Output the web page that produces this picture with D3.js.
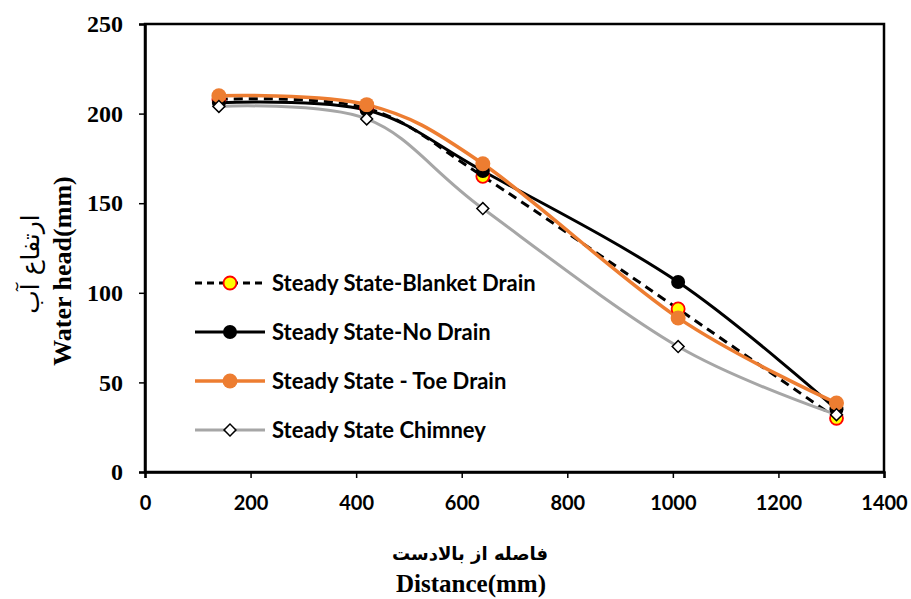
<!DOCTYPE html>
<html>
<head>
<meta charset="utf-8">
<script src="https://cdn.jsdelivr.net/npm/d3@7"></script>
<style>
  body { margin: 0; background: #fff; }
  svg { display: block; }
</style>
</head>
<body>
<div id="chart"></div>
<script>
// distances along the dam (mm)
const distances = [140, 420, 640, 1010, 1310];

const blanketDrain = [208, 203, 165, 91, 30];
const noDrain = [206, 202, 168, 106, 35];
const toeDrain = [210, 205, 172, 86, 38.5];
const chimney = [204, 197, 147, 70, 32];

const xTicks = [0, 200, 400, 600, 800, 1000, 1200, 1400];
const yTicks = [0, 50, 100, 150, 200, 250];

const seriesNames = [
    'Steady State-Blanket Drain',
    'Steady State-No Drain',
    'Steady State - Toe Drain',
    'Steady State Chimney'
];

const width = 911, height = 599;
const margin = { top: 24, right: 27, bottom: 127, left: 145 };
const innerW = width - margin.left - margin.right;
const innerH = height - margin.top - margin.bottom;

const svg = d3.select('#chart')
    .append('svg')
    .attr('width', width)
    .attr('height', height);

const g = svg.append('g')
    .attr('transform', `translate(${margin.left}, ${margin.top})`);

const x = d3.scaleLinear().domain([0, 1400]).range([0, innerW]);
const y = d3.scaleLinear().domain([0, 250]).range([innerH, 0]);

// frame
g.append('rect')
    .attr('width', innerW)
    .attr('height', innerH)
    .attr('fill', 'none')
    .attr('stroke', '#000')
    .attr('stroke-width', 2.5);

const xAxis = g.append('g')
    .attr('transform', `translate(0, ${innerH})`)
    .call(d3.axisBottom(x).tickValues(xTicks).tickSize(6).tickPadding(18).tickFormat(d3.format('d')));

const yAxis = g.append('g')
    .call(d3.axisLeft(y).tickValues(yTicks).tickSize(6).tickPadding(16).tickFormat(d3.format('d')));

[xAxis, yAxis].forEach(ax => {
    ax.select('.domain').attr('stroke', '#000').attr('stroke-width', 2.5);
    ax.selectAll('.tick line').attr('stroke', '#000').attr('stroke-width', 1.5);
});

xAxis.selectAll('.tick text')
    .style('font-family', 'Lato, "Open Sans", sans-serif')
    .style('font-weight', '700')
    .style('font-size', '20px')
    .attr('fill', '#000');

yAxis.selectAll('.tick text')
    .style('font-family', '"Liberation Serif", "Times New Roman", serif')
    .style('font-weight', '700')
    .style('font-size', '24px')
    .attr('fill', '#000');

const smooth = d3.curveCardinal.tension(0);

const series = [
    { name: seriesNames[1], values: noDrain, color: '#000', width: 3, dash: null },
    { name: seriesNames[0], values: blanketDrain, color: '#000', width: 3, dash: '9,6' },
    { name: seriesNames[3], values: chimney, color: '#a6a6a6', width: 3, dash: null },
    { name: seriesNames[2], values: toeDrain, color: '#ed7d31', width: 3.5, dash: null }
];

const line = d3.line()
    .x((d, i) => x(distances[i]))
    .y(d => y(d))
    .curve(smooth);

series.forEach(s => {
    g.append('path')
        .datum(s.values)
        .attr('fill', 'none')
        .attr('stroke', s.color)
        .attr('stroke-width', s.width)
        .attr('stroke-dasharray', s.dash)
        .attr('d', line);
});

function drawMarker(sel, name, cx, cy) {
    if (name === seriesNames[0]) {
        sel.append('circle').attr('cx', cx).attr('cy', cy).attr('r', 6.5)
            .attr('fill', '#ffff00').attr('stroke', '#ff0000').attr('stroke-width', 1.8);
    } else if (name === seriesNames[1]) {
        sel.append('circle').attr('cx', cx).attr('cy', cy).attr('r', 7)
            .attr('fill', '#000');
    } else if (name === seriesNames[2]) {
        sel.append('circle').attr('cx', cx).attr('cy', cy).attr('r', 7.5)
            .attr('fill', '#ed7d31');
    } else {
        sel.append('path')
            .attr('transform', `translate(${cx}, ${cy}) rotate(45)`)
            .attr('d', 'M-4.2,-4.2H4.2V4.2H-4.2Z')
            .attr('fill', '#fff').attr('stroke', '#000').attr('stroke-width', 1.5);
    }
}

// markers drawn in Excel order: blanket, no drain, toe, chimney
const markerOrder = [
    { name: seriesNames[0], values: blanketDrain },
    { name: seriesNames[1], values: noDrain },
    { name: seriesNames[2], values: toeDrain },
    { name: seriesNames[3], values: chimney }
];
markerOrder.forEach(s => {
    const mg = g.append('g');
    s.values.forEach((v, i) => drawMarker(mg, s.name, x(distances[i]), y(v)));
});

// legend
const legendItems = [
    { name: seriesNames[0], color: '#000', width: 3, dash: '7,5' },
    { name: seriesNames[1], color: '#000', width: 3, dash: null },
    { name: seriesNames[2], color: '#ed7d31', width: 3.5, dash: null },
    { name: seriesNames[3], color: '#a6a6a6', width: 3, dash: null }
];

const legend = svg.append('g').attr('transform', 'translate(195, 283)');
legendItems.forEach((d, i) => {
    const row = legend.append('g').attr('transform', `translate(0, ${i * 49})`);
    row.append('line')
        .attr('x1', 0).attr('x2', 70)
        .attr('stroke', d.color)
        .attr('stroke-width', d.width)
        .attr('stroke-dasharray', d.dash);
    drawMarker(row, d.name, 35, 0);
    row.append('text')
        .attr('x', 77)
        .attr('dy', '0.35em')
        .style('font-family', 'Lato, "Open Sans", sans-serif')
        .style('font-weight', '700')
        .style('font-size', '22px')
        .attr('fill', '#000')
        .text(d.name);
});

// axis titles
svg.append('text')
    .attr('x', 470).attr('y', 560)
    .attr('text-anchor', 'middle')
    .attr('direction', 'rtl')
    .style('font-family', '"DejaVu Sans", sans-serif')
    .style('font-weight', '700')
    .style('font-size', '18px')
    .text('فاصله از بالادست');

svg.append('text')
    .attr('x', 471).attr('y', 592)
    .attr('text-anchor', 'middle')
    .style('font-family', '"Liberation Serif", serif')
    .style('font-weight', '700')
    .style('font-size', '25px')
    .text('Distance(mm)');

svg.append('text')
    .attr('transform', 'translate(39, 264) rotate(-90)')
    .attr('text-anchor', 'middle')
    .attr('direction', 'rtl')
    .style('font-family', '"DejaVu Sans", sans-serif')
    .style('font-size', '25px')
    .text('ارتفاع آب');

svg.append('text')
    .attr('transform', 'translate(71, 271) rotate(-90)')
    .attr('text-anchor', 'middle')
    .style('font-family', '"Liberation Serif", serif')
    .style('font-weight', '700')
    .style('font-size', '26px')
    .text('Water head(mm)');
</script>
</body>
</html>
